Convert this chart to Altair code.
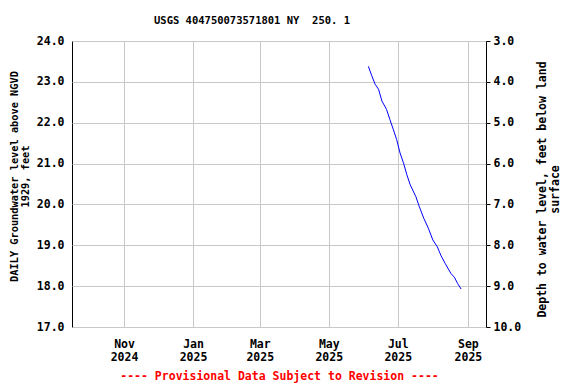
import altair as alt
import pandas as pd

title_text = "USGS 404750073571801 NY\u00a0\u00a0250. 1"
footer_text = "---- Provisional Data Subject to Revision ----"
left_title = ["DAILY Groundwater level above NGVD", "1929, feet"]
right_title = ["Depth to water level, feet below land", "surface"]

dates = ["2025-06-05", "2025-06-08", "2025-06-11", "2025-06-14", "2025-06-17",
         "2025-06-21", "2025-06-24", "2025-06-27", "2025-06-30", "2025-07-03",
         "2025-07-06", "2025-07-09", "2025-07-12", "2025-07-17", "2025-07-20",
         "2025-07-24", "2025-07-28", "2025-08-01", "2025-08-05", "2025-08-08",
         "2025-08-12", "2025-08-17", "2025-08-20", "2025-08-23", "2025-08-26"]
levels = [23.38, 23.15, 22.94, 22.82, 22.53,
          22.33, 22.08, 21.84, 21.59, 21.26,
          21.02, 20.73, 20.48, 20.19, 19.95,
          19.66, 19.42, 19.13, 18.96, 18.76,
          18.55, 18.31, 18.22, 18.06, 17.93]
land_surface = 27.0

left_ticks = [17, 18, 19, 20, 21, 22, 23, 24]
right_ticks = [3, 4, 5, 6, 7, 8, 9, 10]
x_tick_months = [(2024, 11), (2025, 1), (2025, 3), (2025, 5), (2025, 7), (2025, 9)]
x_start = (2024, 9, 16)
x_end = (2025, 9, 17)

df = pd.DataFrame({"date": [d + "T00:00:00" for d in dates], "level": levels})

FONT = "DejaVu Sans Mono"

x_enc = alt.X(
    "date:T",
    scale=alt.Scale(domain=[alt.DateTime(year=x_start[0], month=x_start[1], date=x_start[2]),
                            alt.DateTime(year=x_end[0], month=x_end[1], date=x_end[2])]),
    axis=alt.Axis(
        values=[alt.DateTime(year=y, month=m, date=1) for y, m in x_tick_months],
        labelExpr="[timeFormat(datum.value, '%b'), timeFormat(datum.value, '%Y')]",
        title=footer_text,
        titleColor="#ff0000",
        titleFontSize=11.5,
        titlePadding=8,
        labelPadding=11,
        tickSize=0,
        labelLineHeight=13,
    ),
)

base = alt.Chart(df).encode(x=x_enc)

line = base.mark_line(color="#0000ff", strokeWidth=1).encode(
    y=alt.Y("level:Q",
            scale=alt.Scale(domain=[17, 24], zero=False, nice=False),
            axis=alt.Axis(values=left_ticks, format=".1f", title=left_title,
                          tickSize=0, labelPadding=8, titlePadding=6, titleY=135,
                          titleFontSize=10.3, titleLineHeight=11, grid=True))
)

depth_layer = base.mark_line(opacity=0).transform_calculate(
    depth=f"{land_surface} - datum.level"
).encode(
    y=alt.Y("depth:Q",
            scale=alt.Scale(domain=[3, 10], reverse=True, zero=False, nice=False),
            axis=alt.Axis(values=right_ticks, format=".1f", title=right_title, orient="right",
                          tickSize=4, tickColor="black", labelPadding=3, titlePadding=14,
                          titleY=148, titleAngle=270, titleFontSize=11.5,
                          titleLineHeight=13, grid=False))
)

chart = alt.layer(line, depth_layer).resolve_scale(y="independent").properties(
    width=414,
    height=286,
    autosize=alt.AutoSizeParams(type="none"),
    padding={"left": 64, "top": 33, "right": 82, "bottom": 62},
    title=alt.TitleParams(title_text, font=FONT, fontSize=10.5, fontWeight="bold",
                          color="black", anchor="middle", dx=-27, offset=9),
).configure_view(
    stroke="black", strokeWidth=1
).configure_axis(
    labelFont=FONT, labelFontWeight="bold", labelFontSize=11.5, labelColor="black",
    titleFont=FONT, titleFontWeight="bold", titleColor="black",
    domain=False, gridColor="#c8c8c8", gridWidth=1, gridOpacity=1,
)

chart.save("out.html", embed_options={"renderer": "svg", "actions": False})
